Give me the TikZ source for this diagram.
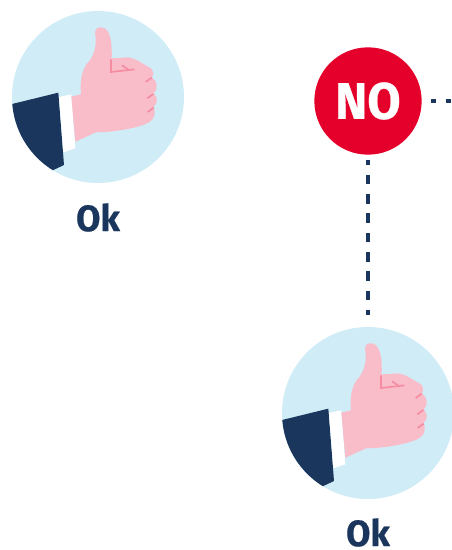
\documentclass[tikz,border=0pt]{standalone}
\usepackage{fontspec}
\setmainfont{Fira Sans}[BoldFeatures={FakeBold=0.6}]
\definecolor{navy}{HTML}{1A365D}
\definecolor{sky}{HTML}{CFECF7}
\definecolor{skin}{HTML}{F9BDCA}
\definecolor{crease}{HTML}{F58CA2}
\definecolor{stop}{HTML}{E4002B}
\tikzset{
  lbl/.style={text=navy,font=\bfseries\fontsize{27.5pt}{27.5pt}\selectfont,inner sep=0pt,anchor=center,xscale=0.96},
  dots/.style={draw=navy,line width=3pt,dash pattern=on 7.2pt off 7.3pt},
  crs/.style={draw=crease,line width=1.25pt},
}
\newcommand{\thumbart}{%
  \fill[sky] (294,291) circle (258);
  \begin{scope}
    \clip (294,291) circle (258);
    \fill[navy] (20,316) -- (175,278) -- (192,495) -- (158,511) -- (20,540) -- cycle;
  \end{scope}
  \fill[white] (177,291) -- (214,283) -- (226,445) -- (190,457) -- cycle;
  \fill[skin] (214,290) -- (243,283)
    .. controls (239,240) and (246,205) .. (268,183)
    .. controls (285,160) and (291,130) .. (285,98)
    .. controls (285,82) and (300,78) .. (314,85)
    .. controls (330,95) and (337,125) .. (335,175)
    -- (385,172) .. controls (405,174) and (425,190) .. (450,203)
    .. controls (461,210) and (462,224) .. (456,232)
    .. controls (470,240) and (477,265) .. (461,280)
    .. controls (474,292) and (474,310) .. (461,320)
    .. controls (467,335) and (466,355) .. (450,365)
    .. controls (425,382) and (350,396) .. (288,397)
    -- (226,425) -- cycle;
  \draw[crs] (333,178) -- (333,216) -- (404,208);
  \draw[crs] (366,196) -- (384,208);
  \draw[crs] (437,246) -- (455,233);
  \draw[crs] (442,295) -- (460,282);
  \draw[crs] (443,336) -- (461,323);
}
\begin{document}
\begin{tikzpicture}[x=0.75pt,y=-0.75pt]
\useasboundingbox (0,0) rectangle (451,550);
\begin{scope}[x=0.25pt,y=-0.25pt]
  \thumbart
\end{scope}
\begin{scope}[x=0.25pt,y=-0.25pt,shift={(810,948)}]
  \thumbart
\end{scope}
\node[lbl] (ok1) at (98,217.5) {Ok};
\node[lbl] (ok2) at (368,532.5) {Ok};
\node[circle,fill=stop,minimum size=80.5pt,inner sep=0pt] (no) at (368,101) {};
\node[text=white,font=\bfseries\fontsize{38.5pt}{38.5pt}\selectfont,inner sep=0pt,xscale=0.94] (notext) at (no.center) {NO};
\coordinate (vstart) at (368,160);
\coordinate (vend) at (368,315);
\coordinate (hstart) at (431,100.7);
\coordinate (hend) at (451,100.7);
\draw[dots,dash phase=3.4pt] (vstart) -- (vend);
\draw[dots,dash phase=3.4pt] (hstart) -- (hend);
\end{tikzpicture}
\end{document}
